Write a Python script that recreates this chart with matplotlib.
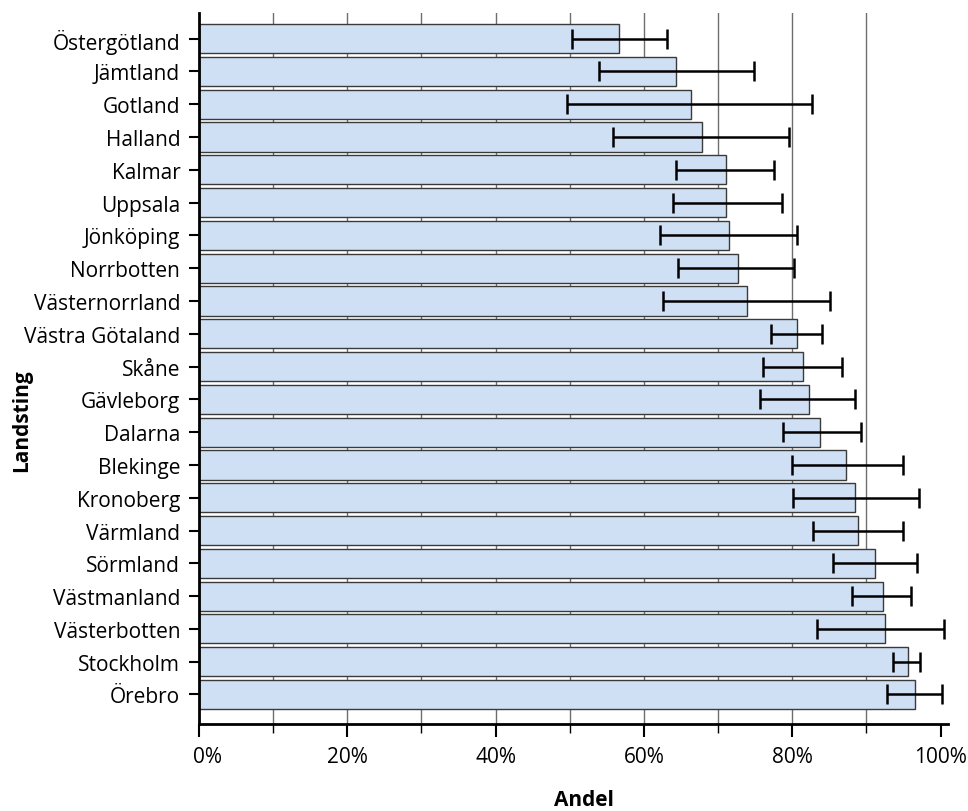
import matplotlib
matplotlib.use("Agg")
import matplotlib.pyplot as plt
import numpy as np
from matplotlib.transforms import ScaledTranslation

plt.rcParams['font.family'] = ['Open Sans', 'DejaVu Sans']

regions = ["Östergötland", "Jämtland", "Gotland", "Halland", "Kalmar", "Uppsala",
           "Jönköping", "Norrbotten", "Västernorrland", "Västra Götaland", "Skåne",
           "Gävleborg", "Dalarna", "Blekinge", "Kronoberg", "Värmland", "Sörmland",
           "Västmanland", "Västerbotten", "Stockholm", "Örebro"]
share = [56.7, 64.3, 66.4, 67.8, 71.1, 71.1, 71.5, 72.7, 73.9, 80.6, 81.4,
         82.2, 83.7, 87.2, 88.4, 88.8, 91.2, 92.2, 92.5, 95.6, 96.6]
ci_low = [50.3, 54.0, 49.6, 55.8, 64.3, 63.9, 62.2, 64.6, 62.6, 77.1, 76.0,
          75.6, 78.7, 79.9, 80.1, 82.8, 85.5, 88.0, 83.4, 93.6, 92.8]
ci_high = [63.1, 74.9, 82.7, 79.6, 77.5, 78.6, 80.6, 80.3, 85.1, 84.0, 86.7,
           88.5, 89.3, 94.9, 97.1, 94.9, 96.8, 96.0, 100.5, 97.2, 100.2]

share = np.array(share)
err = np.vstack([share - np.array(ci_low), np.array(ci_high) - share])

fig = plt.figure(figsize=(9.68, 8.12), dpi=100)
ax = fig.add_axes([199/968, 1 - 725/812, (948-199)/968, (725-14)/812])

y = np.arange(len(regions))
for gx in range(10, 100, 10):
    ax.axvline(gx, color='#6e6e6e', lw=1.0, zorder=0)

ax.barh(y, share, height=0.89, color='#cfe0f5', edgecolor='#3a3a3a',
        linewidth=1.0, zorder=2)
ax.errorbar(share, y, xerr=err, fmt='none', ecolor='black', elinewidth=1.8,
            capsize=7, capthick=1.8, zorder=3)

ax.set_ylim(20.9, -0.78)
ax.set_xlim(0, 101)
ax.set_yticks(y)
ax.set_yticklabels(regions, fontsize=15)
ax.set_xticks(np.arange(0, 101, 20))
ax.set_xticklabels([f"{v}%" for v in range(0, 101, 20)], fontsize=15)
ax.set_xticks(np.arange(10, 100, 20), minor=True)

for s in ['top', 'right']:
    ax.spines[s].set_visible(False)
ax.spines['left'].set_linewidth(2.0)
ax.spines['bottom'].set_linewidth(2.0)
ax.tick_params(axis='y', length=7.5, width=1.5, pad=6)
ax.tick_params(axis='x', which='major', length=9, width=1.5, pad=7)
ax.tick_params(axis='x', which='minor', length=6.5, width=1.0)

lbl0 = ax.get_xticklabels()[0]
lbl0.set_transform(lbl0.get_transform() + ScaledTranslation(8/100, 0, fig.dpi_scale_trans))

fig.text(584/968, 1 - 801/812, "Andel", ha='center', va='center',
         fontsize=15, fontweight='bold')
fig.text(21.5/968, 1 - 421/812, "Landsting", ha='center', va='center',
         rotation=90, fontsize=15, fontweight='bold')

fig.savefig("out.png", dpi=100)
